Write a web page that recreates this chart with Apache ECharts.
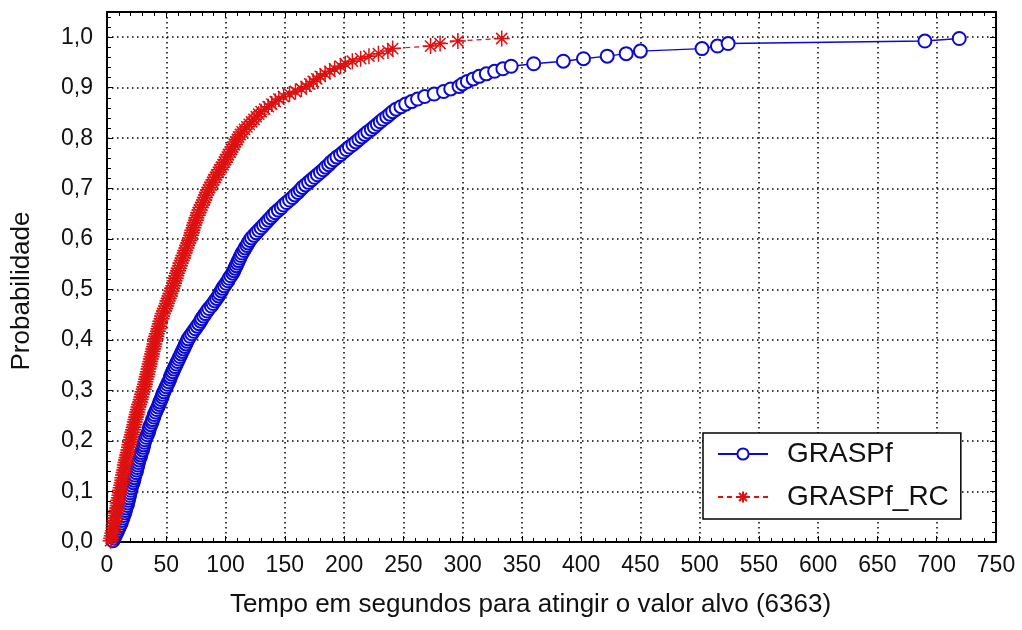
<!DOCTYPE html>
<html>
<head>
<meta charset="utf-8">
<title>TTT GRASPf</title>
<script src="https://cdn.jsdelivr.net/npm/echarts@6/dist/echarts.min.js"></script>
<style>
html, body { margin: 0; padding: 0; background: #fff; }
#chart { width: 1022px; height: 630px; }
</style>
</head>
<body>
<div id="chart"></div>
<script>
// probabilidade acumulada de cada execucao (200 execucoes)
var probabilidades = [
	0.0025,0.0075,0.0125,0.0175,0.0225,0.0275,0.0325,0.0375,0.0425,0.0475,
	0.0525,0.0575,0.0625,0.0675,0.0725,0.0775,0.0825,0.0875,0.0925,0.0975,
	0.1025,0.1075,0.1125,0.1175,0.1225,0.1275,0.1325,0.1375,0.1425,0.1475,
	0.1525,0.1575,0.1625,0.1675,0.1725,0.1775,0.1825,0.1875,0.1925,0.1975,
	0.2025,0.2075,0.2125,0.2175,0.2225,0.2275,0.2325,0.2375,0.2425,0.2475,
	0.2525,0.2575,0.2625,0.2675,0.2725,0.2775,0.2825,0.2875,0.2925,0.2975,
	0.3025,0.3075,0.3125,0.3175,0.3225,0.3275,0.3325,0.3375,0.3425,0.3475,
	0.3525,0.3575,0.3625,0.3675,0.3725,0.3775,0.3825,0.3875,0.3925,0.3975,
	0.4025,0.4075,0.4125,0.4175,0.4225,0.4275,0.4325,0.4375,0.4425,0.4475,
	0.4525,0.4575,0.4625,0.4675,0.4725,0.4775,0.4825,0.4875,0.4925,0.4975,
	0.5025,0.5075,0.5125,0.5175,0.5225,0.5275,0.5325,0.5375,0.5425,0.5475,
	0.5525,0.5575,0.5625,0.5675,0.5725,0.5775,0.5825,0.5875,0.5925,0.5975,
	0.6025,0.6075,0.6125,0.6175,0.6225,0.6275,0.6325,0.6375,0.6425,0.6475,
	0.6525,0.6575,0.6625,0.6675,0.6725,0.6775,0.6825,0.6875,0.6925,0.6975,
	0.7025,0.7075,0.7125,0.7175,0.7225,0.7275,0.7325,0.7375,0.7425,0.7475,
	0.7525,0.7575,0.7625,0.7675,0.7725,0.7775,0.7825,0.7875,0.7925,0.7975,
	0.8025,0.8075,0.8125,0.8175,0.8225,0.8275,0.8325,0.8375,0.8425,0.8475,
	0.8525,0.8575,0.8625,0.8675,0.8725,0.8775,0.8825,0.8875,0.8925,0.8975,
	0.9025,0.9075,0.9125,0.9175,0.9225,0.9275,0.9325,0.9375,0.9425,0.9475,
	0.9525,0.9575,0.9625,0.9675,0.9725,0.9775,0.9825,0.9875,0.9925,0.9975
];

// tempos (s) ordenados - GRASPf
var temposGRASPf = [
	5, 6, 7, 8, 9, 10, 11, 12, 12.5, 13.5,
	14, 15, 15.5, 16, 17, 17.5, 18, 18.5, 19, 19.5,
	20, 20.5, 21, 22, 22.5, 23, 23.5, 24.5, 25, 25.5,
	26, 26.5, 27, 28, 28.5, 29, 30, 30.5, 31, 31.5,
	32, 33, 34, 35, 35.5, 36, 37, 38, 38.5, 39.5,
	40, 41, 42, 43, 44, 44.5, 45.5, 46.5, 47, 48,
	49, 50, 51, 52, 53, 53.5, 54.5, 55.5, 56.5, 57.5,
	58.5, 59.5, 60.5, 61.5, 62.5, 63.5, 64.5, 65.5, 66.5, 67.5,
	68.5, 70, 71.5, 73, 74.5, 76, 77.5, 79, 80, 81.5,
	83, 84.5, 86, 88, 89.5, 91, 92.5, 94, 95, 96.5,
	97.5, 99, 100.5, 102, 103, 104.5, 106, 107, 108, 109,
	110, 111, 112, 113, 114, 115.5, 116.5, 118, 119, 120.5,
	122, 124, 126, 128, 130, 132, 134, 136, 138, 140,
	142, 144.5, 147, 149, 151.5, 154, 156.5, 158.5, 161, 163,
	165, 167.5, 170, 172.5, 175, 177.5, 180, 182.5, 184.5, 187,
	189, 191.5, 194, 197, 199.5, 202, 204.5, 207.5, 210, 212.5,
	215, 217.5, 220, 223, 225.5, 228, 230.5, 233, 236, 238.5,
	241, 244, 248, 252, 257, 262, 268, 276, 284, 290,
	297, 300, 304, 309, 314, 320, 327, 334, 341, 360,
	385, 402, 422, 438, 450, 502, 515, 524, 690, 719
];

// tempos (s) ordenados - GRASPf_RC
var temposGRASPfRC = [
	3, 3.5, 4, 4.5, 5, 5.5, 5.5, 6, 6.5, 7,
	7, 7.5, 8, 8.5, 9, 9, 9.5, 10, 10.5, 11,
	11, 11.5, 12, 12.5, 13, 13, 13.5, 14, 14.5, 15,
	15, 15.5, 16, 16.5, 17, 17.5, 18, 18.5, 19, 19.5,
	20, 20.5, 21, 21.5, 22, 22.5, 23, 23.5, 24, 24.5,
	25, 25.5, 26, 26.5, 27, 28, 28.5, 29, 29.5, 30,
	31, 31.5, 32, 32.5, 33, 33.5, 34, 34.5, 35, 35.5,
	36, 36.5, 37, 37.5, 38, 38.5, 39, 39.5, 40, 40.5,
	41, 41.5, 42, 43, 43.5, 44, 44.5, 45, 46, 46.5,
	47, 48, 49, 50, 50.5, 51, 52, 53, 53.5, 54.5,
	55, 56, 56.5, 57, 58, 58.5, 59, 60, 60.5, 61.5,
	62, 63, 64, 64.5, 65.5, 66, 67, 67.5, 68.5, 69.5,
	70, 71, 71.5, 72, 73, 73.5, 74, 75, 75.5, 76.5,
	77, 78, 79, 80, 81, 82, 82.5, 83.5, 84.5, 85.5,
	86.5, 88, 89, 90, 91.5, 92.5, 94, 95, 96.5, 98,
	99, 100, 101.5, 102.5, 104, 105, 106, 107.5, 108.5, 110,
	111, 112.5, 114, 116, 118, 120, 122, 124, 126, 128,
	130, 133, 136, 139, 142, 145, 149, 154, 159, 164,
	168, 171, 174, 177, 180, 184, 188, 192, 197, 201,
	207, 214, 221, 229, 237, 241, 273, 281, 296, 333
];

var nomesSeries = ['GRASPf', 'GRASPf_RC'];
var nomeEixoX = 'Tempo em segundos para atingir o valor alvo (6363)';
var nomeEixoY = 'Probabilidade';

var fonte = '"Liberation Sans", Arial, sans-serif';

function montarPontos(tempos) {
	var pontos = [];
	for (var i = 0; i < tempos.length; i++) {
		pontos.push([tempos[i], probabilidades[i]]);
	}
	return pontos;
}

function rotuloY(v) {
	if (v > 1.001) {
		return '';
	}
	return v.toFixed(1).replace('.', ',');
}

var linhaEixo = { show: true, onZero: false, lineStyle: { color: '#000', width: 2 } };
var grade = { show: true, lineStyle: { color: '#000', width: 1.5, type: [1.5, 3.5] } };

var myChart = echarts.init(document.getElementById('chart'), null, { renderer: 'canvas' });
var option = {
	backgroundColor: '#fff',
	animation: false,
	grid: { left: 107, right: 26, top: 12, bottom: 88 },
	legend: {
		data: nomesSeries,
		orient: 'vertical',
		left: 703,
		top: 433,
		backgroundColor: '#fff',
		borderColor: '#000',
		borderWidth: 1.5,
		borderRadius: 0,
		padding: [7, 12, 8, 14],
		itemGap: 15,
		itemWidth: 50,
		itemHeight: 14,
		textStyle: { fontFamily: fonte, fontSize: 28, color: '#111', padding: [0, 0, 0, 14] }
	},
	xAxis: [{
		type: 'value',
		position: 'bottom',
		min: 0,
		max: 750,
		interval: 50,
		name: nomeEixoX,
		nameLocation: 'middle',
		nameGap: 50,
		nameTextStyle: { fontFamily: fonte, fontSize: 26, color: '#111', padding: [0, 42, 0, 0] },
		axisLine: linhaEixo,
		axisTick: { inside: true, length: 6, lineStyle: { color: '#000' } },
		minorTick: { show: true, splitNumber: 5, length: 4, lineStyle: { color: '#000' } },
		axisLabel: { fontFamily: fonte, fontSize: 23, color: '#111', margin: 12 },
		splitLine: grade
	}, {
		type: 'value',
		position: 'top',
		min: 0,
		max: 750,
		interval: 50,
		axisLine: linhaEixo,
		axisTick: { inside: true, length: 6, lineStyle: { color: '#000' } },
		minorTick: { show: true, splitNumber: 5, length: 4, lineStyle: { color: '#000' } },
		axisLabel: { show: false },
		splitLine: { show: false }
	}],
	yAxis: [{
		type: 'value',
		position: 'left',
		min: 0,
		max: 1.05,
		interval: 0.1,
		name: nomeEixoY,
		nameLocation: 'middle',
		nameGap: 72,
		nameTextStyle: { fontFamily: fonte, fontSize: 26, color: '#111', padding: [0, 28, 0, 0] },
		axisLine: linhaEixo,
		axisTick: { inside: true, length: 6, lineStyle: { color: '#000' } },
		minorTick: { show: true, splitNumber: 5, length: 4, lineStyle: { color: '#000' } },
		axisLabel: { fontFamily: fonte, fontSize: 23, color: '#111', margin: 14, formatter: rotuloY, showMaxLabel: false },
		splitLine: grade
	}, {
		type: 'value',
		position: 'right',
		min: 0,
		max: 1.05,
		interval: 0.1,
		axisLine: linhaEixo,
		axisTick: { inside: true, length: 6, lineStyle: { color: '#000' } },
		minorTick: { show: true, splitNumber: 5, length: 4, lineStyle: { color: '#000' } },
		axisLabel: { show: false },
		splitLine: { show: false }
	}],
	series: [{
		name: nomesSeries[0],
		type: 'line',
		xAxisIndex: 0,
		yAxisIndex: 0,
		data: montarPontos(temposGRASPf),
		symbol: 'emptyCircle',
		symbolSize: 13,
		showAllSymbol: true,
		color: '#0a0ad2',
		itemStyle: { color: '#0a0ad2', borderWidth: 1.5 },
		lineStyle: { color: '#0a0ad2', width: 1.4 },
		z: 3
	}, {
		name: nomesSeries[1],
		type: 'line',
		xAxisIndex: 0,
		yAxisIndex: 0,
		data: montarPontos(temposGRASPfRC),
		// asterisco de 8 bracos
		symbol: 'path://M5,0L5,10M0,5L10,5M1.5,1.5L8.5,8.5M8.5,1.5L1.5,8.5',
		symbolSize: 16,
		showAllSymbol: true,
		color: '#dd1111',
		itemStyle: { color: '#dd1111', borderColor: '#dd1111', borderWidth: 1.5 },
		lineStyle: { color: '#dd1111', width: 1.2, type: [5, 4] },
		z: 4
	}]
};

if (option && typeof option === "object") {
	myChart.setOption(option, true);
}
</script>
</body>
</html>
